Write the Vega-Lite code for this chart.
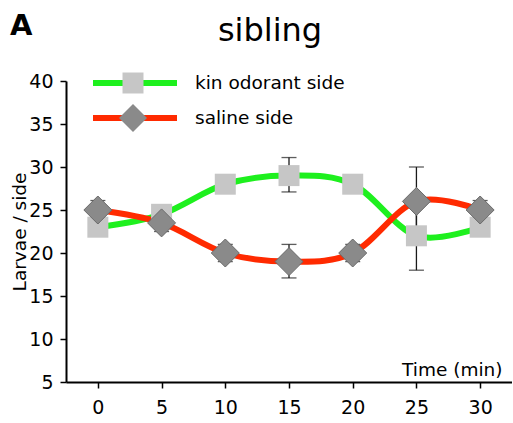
{
  "$schema": "https://vega.github.io/schema/vega-lite/v6.json",
  "padding": {"left": 10, "top": 12, "right": 0, "bottom": 0},
  "title": {
    "text": "A",
    "anchor": "start",
    "frame": "bounds",
    "font": "DejaVu Sans",
    "fontSize": 29,
    "fontWeight": "bold",
    "color": "black",
    "dy": 30
  },
  "config": {
    "view": {"stroke": null},
    "font": "DejaVu Sans"
  },
  "vconcat": [
    {
      "width": 446,
      "height": 301,
      "title": {
        "text": "sibling",
        "font": "DejaVu Sans",
        "fontSize": 32,
        "fontWeight": "normal",
        "color": "black",
        "dx": -19,
        "baseline": "alphabetic",
        "offset": -1
      },
      "data": {
        "values": [
          {"time": 0, "series": "kin odorant side", "larvae": 23, "low": 22.2, "high": 23.8},
          {"time": 5, "series": "kin odorant side", "larvae": 24.5, "low": 23.7, "high": 25.3},
          {"time": 10, "series": "kin odorant side", "larvae": 28, "low": 27.2, "high": 28.8},
          {"time": 15, "series": "kin odorant side", "larvae": 29, "low": 27.1, "high": 31.1},
          {"time": 20, "series": "kin odorant side", "larvae": 28, "low": 27.2, "high": 28.8},
          {"time": 25, "series": "kin odorant side", "larvae": 22, "low": 18, "high": 26},
          {"time": 30, "series": "kin odorant side", "larvae": 23, "low": 22.2, "high": 23.8},
          {"time": 0, "series": "saline side", "larvae": 25, "low": 23.9, "high": 26.1},
          {"time": 5, "series": "saline side", "larvae": 23.5, "low": 22.5, "high": 24.5},
          {"time": 10, "series": "saline side", "larvae": 20, "low": 19, "high": 21},
          {"time": 15, "series": "saline side", "larvae": 19, "low": 17.1, "high": 21},
          {"time": 20, "series": "saline side", "larvae": 20, "low": 19, "high": 21},
          {"time": 25, "series": "saline side", "larvae": 26, "low": 22, "high": 30},
          {"time": 30, "series": "saline side", "larvae": 25, "low": 23.9, "high": 26.1}
        ]
      },
      "encoding": {
        "x": {
          "field": "time",
          "type": "quantitative",
          "scale": {"domain": [-2.5, 32.5], "nice": false, "zero": false},
          "axis": {
            "values": [0, 5, 10, 15, 20, 25, 30],
            "grid": false,
            "domainColor": "black",
            "domainWidth": 2,
            "tickColor": "black",
            "tickWidth": 1.5,
            "tickSize": 6,
            "labelFont": "DejaVu Sans",
            "labelFontSize": 19,
            "labelColor": "black",
            "labelPadding": 10,
            "labelFlush": false,
            "title": "Time (min)",
            "titleFont": "DejaVu Sans",
            "titleFontSize": 18.5,
            "titleFontWeight": "normal",
            "titleColor": "black",
            "titleX": 436,
            "titleY": -7,
            "titleAlign": "right",
            "titleBaseline": "alphabetic"
          }
        },
        "y": {
          "field": "larvae",
          "type": "quantitative",
          "scale": {"domain": [5, 40], "nice": false, "zero": false},
          "axis": {
            "values": [5, 10, 15, 20, 25, 30, 35, 40],
            "grid": false,
            "domainColor": "black",
            "domainWidth": 2,
            "tickColor": "black",
            "tickWidth": 1.5,
            "tickSize": 6,
            "labelFont": "DejaVu Sans",
            "labelFontSize": 19,
            "labelColor": "black",
            "labelPadding": 7,
            "labelFlush": false,
            "title": "Larvae / side",
            "titleFont": "DejaVu Sans",
            "titleFontSize": 18.5,
            "titleFontWeight": "normal",
            "titleColor": "black",
            "titleAngle": -90,
            "titleX": -41,
            "titleY": 150.5,
            "titleAlign": "center",
            "titleBaseline": "alphabetic"
          }
        }
      },
      "layer": [
        {
          "mark": {"type": "line", "interpolate": "cardinal", "strokeWidth": 6},
          "encoding": {
            "stroke": {
              "field": "series",
              "type": "nominal",
              "scale": {
                "domain": ["kin odorant side", "saline side"],
                "range": ["#1ef01e", "#ff2a00"]
              },
              "legend": {
                "orient": "none",
                "legendX": 24,
                "legendY": -12,
                "title": null,
                "padding": 0,
                "symbolType": "stroke",
                "symbolSize": 7056,
                "symbolStrokeWidth": 6,
                "clipHeight": 28,
                "rowPadding": 7,
                "labelOffset": 15,
                "labelFont": "DejaVu Sans",
                "labelFontSize": 18.5,
                "labelColor": "black"
              }
            }
          }
        },
        {
          "mark": {"type": "rule", "color": "#1a1a1a", "strokeWidth": 1.3},
          "encoding": {
            "y": {"field": "low", "type": "quantitative"},
            "y2": {"field": "high"}
          }
        },
        {
          "mark": {"type": "tick", "orient": "horizontal", "color": "#1a1a1a", "size": 15, "thickness": 1.3},
          "encoding": {
            "y": {"field": "low", "type": "quantitative"}
          }
        },
        {
          "mark": {"type": "tick", "orient": "horizontal", "color": "#1a1a1a", "size": 15, "thickness": 1.3},
          "encoding": {
            "y": {"field": "high", "type": "quantitative"}
          }
        },
        {
          "mark": {"type": "point", "filled": true, "opacity": 1},
          "encoding": {
            "shape": {
              "field": "series",
              "type": "nominal",
              "scale": {"range": ["square", "diamond"]},
              "legend": {
                "orient": "none",
                "legendX": 52,
                "legendY": -12,
                "title": null,
                "padding": 0,
                "clipHeight": 28,
                "rowPadding": 7,
                "labelExpr": "''"
              }
            },
            "fill": {
              "field": "series",
              "type": "nominal",
              "scale": {"range": ["#c6c6c6", "#8a8a8a"]},
              "legend": {
                "orient": "none",
                "legendX": 52,
                "legendY": -12,
                "title": null,
                "padding": 0,
                "clipHeight": 28,
                "rowPadding": 7,
                "labelExpr": "''"
              }
            },
            "size": {
              "field": "series",
              "type": "nominal",
              "scale": {"range": [441, 784]},
              "legend": {
                "orient": "none",
                "legendX": 52,
                "legendY": -12,
                "title": null,
                "padding": 0,
                "clipHeight": 28,
                "rowPadding": 7,
                "labelExpr": "''"
              }
            },
            "stroke": {
              "condition": {"test": "datum.series === 'saline side'", "value": "#6a6a6a"},
              "value": null
            },
            "strokeWidth": {"value": 1}
          }
        }
      ]
    }
  ]
}
